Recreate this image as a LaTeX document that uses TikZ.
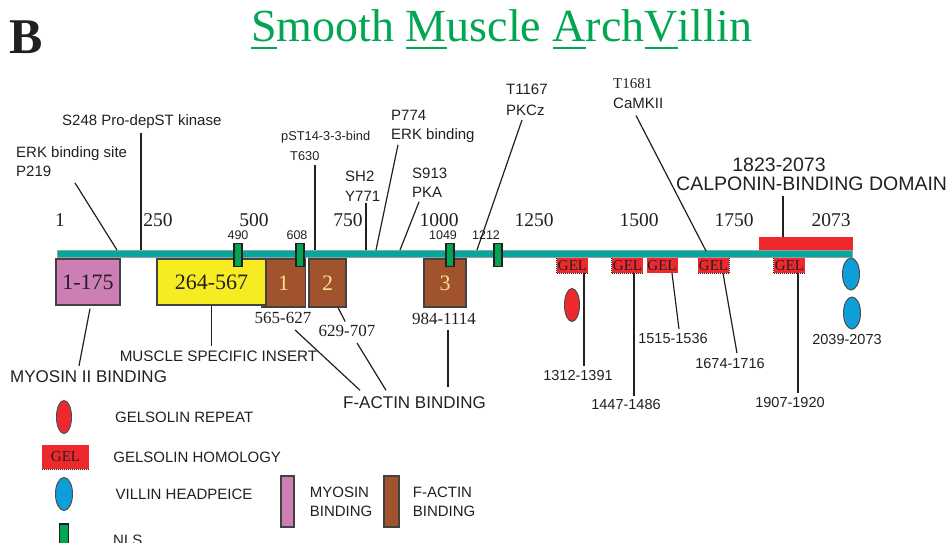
\documentclass[tikz,border=0pt]{standalone}
\usepackage{fontspec}
\setmainfont{Liberation Serif}
\setsansfont{Liberation Sans}
\usetikzlibrary{shapes.geometric, positioning}

\definecolor{ink}{RGB}{35,31,32}
\definecolor{barteal}{RGB}{0,168,157}
\definecolor{nlsgreen}{RGB}{0,166,81}
\definecolor{myopink}{RGB}{204,126,181}
\definecolor{insyellow}{RGB}{247,236,34}
\definecolor{actinbrown}{RGB}{160,83,44}
\definecolor{gelred}{RGB}{237,41,46}
\definecolor{hpblue}{RGB}{14,158,218}
\definecolor{titlegreen}{RGB}{0,166,81}
\definecolor{numyellow}{RGB}{250,225,140}

% underline one capital of the title
\newcommand{\capline}[1]{\setbox0\hbox{#1}\rlap{\rule[-8pt]{\wd0}{2pt}}\box0}

\begin{document}
\begin{tikzpicture}[
    x=1pt, y=-1pt,
    every node/.style={inner sep=0pt, text=ink},
    site/.style={font=\sffamily\fontsize{15}{19}\selectfont, align=left, anchor=north west},
    scaletick/.style={font=\rmfamily\fontsize{19.5}{22}\selectfont},
    nlslabel/.style={font=\sffamily\fontsize{12.5}{14}\selectfont},
    spanlbl/.style={font=\rmfamily\fontsize{17}{20}\selectfont},
    rangelbl/.style={font=\sffamily\fontsize{14.5}{17}\selectfont},
    capt/.style={font=\sffamily\fontsize{17}{20}\selectfont},
    legtext/.style={font=\sffamily\fontsize{15}{19}\selectfont, align=left},
    lead/.style={draw=ink, line width=1.2pt},
    backbone/.style={draw=gray!75, fill=barteal, line width=1pt, minimum width=795pt, minimum height=7pt},
    nls/.style={draw=ink, fill=nlsgreen, line width=1.5pt, minimum width=8pt, minimum height=23pt},
    domainbox/.style={draw=ink!85, line width=1.3pt, font=\rmfamily\fontsize{22}{22}\selectfont},
    myosin/.style={domainbox, fill=myopink},
    msibox/.style={domainbox, fill=insyellow},
    actin/.style={domainbox, fill=actinbrown, text=numyellow},
    gel/.style={fill=gelred, font=\rmfamily\fontsize{15}{15}\selectfont, minimum width=31pt, minimum height=15pt},
    geledge/.style={draw=ink, densely dotted, line width=1pt},
    gelrep/.style={ellipse, draw=ink!80, fill=gelred, line width=1pt, minimum width=15pt, minimum height=33pt},
    headpiece/.style={ellipse, draw=ink!80, fill=hpblue, line width=1pt, minimum width=17pt, minimum height=32pt}
]
\useasboundingbox (0,0) rectangle (947,542);

% Heading
\node[anchor=base west, font=\rmfamily\bfseries\fontsize{50}{50}\selectfont] (panel) at (9,53) {B};
\node[anchor=base west, text=titlegreen, font=\rmfamily\fontsize{46}{46}\selectfont] (title) at (251,41)
    {\capline{S}mooth \capline{M}uscle \capline{A}rch\capline{V}illin};

% Scale along the backbone
\foreach \x/\t in {60/1, 158/250, 254/500, 348/750, 439/1000, 534/1250, 639/1500, 734/1750, 831/2073}
    \node[scaletick] (tick\t) at (\x,220) {\t};

% Domains under the backbone
\node[fill=gelred, minimum width=94pt, minimum height=13pt] (calponin) at (806,243.5) {};
\node[actin, minimum width=44pt, minimum height=48pt] (act1) at (283.5,283) {1};
\node[msibox, minimum width=109pt, minimum height=46pt] (msi) at (211.5,282) {264-567};
\node[myosin, minimum width=64pt, minimum height=46pt] (myo) at (88,282) {1-175};
\node[actin, minimum width=37pt, minimum height=48pt] (act2) at (327.5,283) {2};
\node[actin, minimum width=42pt, minimum height=48pt] (act3) at (445,283) {3};

% Backbone and NLS
\node[backbone] (bar) at (454.5,254) {};
\foreach \x/\lx/\t in {238/238/490, 300/297/608, 450/443/1049, 498/486/1212} {
    \node[nls] (nls\t) at (\x,255) {};
    \node[nlslabel] (nlslbl\t) at (\lx,235) {\t};
}

% Gelsolin homology boxes
\node[gel] (gel1) at (572.5,265.5) {GEL};
\node[gel] (gel2) at (627.5,265.5) {GEL};
\node[gel] (gel3) at (662,265.5) {GEL};
\node[gel] (gel4) at (713.5,265.5) {GEL};
\node[gel] (gel5) at (789.5,265.5) {GEL};
\draw[geledge] (gel1.north west) |- (gel1.south east);
\draw[geledge] (gel2.north west) |- (gel2.south east);
\draw[geledge] (gel4.south west) -| (gel4.north east);
\draw[geledge] (gel5.north west) |- (gel5.south east);

\node[gelrep] (rep1) at (572,305) {};
\node[headpiece] (hp1) at (851,274) {};
\node[headpiece] (hp2) at (852,313) {};

% Sites on the backbone
\coordinate (s219) at (117,250);
\coordinate (s248) at (141,250);
\coordinate (s630) at (315,250);
\coordinate (s771) at (366,250);
\coordinate (s774) at (376,250);
\coordinate (s913) at (400,250);
\coordinate (s1167) at (477,250);
\coordinate (s1681) at (706,251);

% Labels above the backbone
\node[site] (erk_site) at (16,146) {ERK binding site\\P219};
\node[site] (s248_lbl) at (62,114.5) {S248 Pro-depST kinase};
\node[site, font=\sffamily\fontsize{12.8}{15}\selectfont] (pst_lbl) at (281,131.5) {pST14-3-3-bind};
\node[site, font=\sffamily\fontsize{12.8}{15}\selectfont] (t630_lbl) at (290,151.5) {T630};
\node[site, font=\sffamily\fontsize{15}{20}\selectfont] (sh2_lbl) at (345,170.5) {SH2\\Y771};
\node[site] (p774_lbl) at (391,109.5) {P774\\ERK binding};
\node[site] (s913_lbl) at (412,167.5) {S913\\PKA};
\node[site, font=\sffamily\fontsize{15}{21}\selectfont] (t1167_lbl) at (506,83.5) {T1167\\PKCz};
\node[site, font=\rmfamily\fontsize{15}{17}\selectfont] (t1681_lbl) at (613,78) {T1681};
\node[site] (camk_lbl) at (613,97.5) {CaMKII};
\node[font=\sffamily\fontsize{19.5}{22}\selectfont] (calp_num) at (779,165) {1823-2073};
\node[anchor=west, font=\sffamily\fontsize{19.5}{22}\selectfont] (calp_lbl) at (676,184) {CALPONIN-BINDING DOMAIN};

% Labels below the backbone
\node[spanlbl] (r565) at (283,318) {565-627};
\node[spanlbl] (r629) at (347,331) {629-707};
\node[spanlbl] (r984) at (444,319) {984-1114};
\node[capt, font=\sffamily\fontsize{15.2}{18}\selectfont] (msi_lbl) at (218.5,356) {MUSCLE SPECIFIC INSERT};
\node[capt, anchor=west] (myo_lbl) at (10,377) {MYOSIN II BINDING};
\node[capt] (factin_lbl) at (414.5,403) {F-ACTIN BINDING};
\node[rangelbl] (r1312) at (578,375) {1312-1391};
\node[rangelbl] (r1447) at (626,404) {1447-1486};
\node[rangelbl] (r1515) at (673,338) {1515-1536};
\node[rangelbl] (r1674) at (730,363) {1674-1716};
\node[rangelbl] (r1907) at (790,402) {1907-1920};
\node[rangelbl] (r2039) at (847,339) {2039-2073};

% Legend
\node[gelrep] (leg_rep) at (64,417) {};
\node[gel, minimum width=47pt, minimum height=24pt] (leg_gel) at (65.5,457) {GEL};
\draw[geledge] (leg_gel.south west) -- (leg_gel.south east);
\node[headpiece, minimum height=33pt] (leg_hp) at (64,494) {};
\node[nls, minimum width=9pt, minimum height=30pt] (leg_nls) at (64,539) {};
\node[legtext, right=43pt of leg_rep] (leg_rep_txt) {GELSOLIN REPEAT};
\node[legtext, right=24pt of leg_gel] (leg_gel_txt) {GELSOLIN HOMOLOGY};
\node[legtext, right=42.5pt of leg_hp] (leg_hp_txt) {VILLIN HEADPEICE};
\node[legtext, anchor=west] (leg_nls_txt) at (113,540) {NLS};
\node[myosin, minimum width=13pt, minimum height=51pt] (leg_myo) at (287.5,501.5) {};
\node[actin, minimum width=15pt, minimum height=51pt] (leg_act) at (391.5,501.5) {};
\node[legtext, right=15pt of leg_myo] (leg_myo_txt) {MYOSIN\\BINDING};
\node[legtext, right=13pt of leg_act] (leg_act_txt) {F-ACTIN\\BINDING};

% Connections
\draw[lead] (s219) -- ([shift={(59,6.5)}]erk_site.south west);
\draw[lead, shorten >=4.5pt] (s248) -- (s248 |- s248_lbl.south);
\draw[lead, shorten >=4.5pt] (s630) -- (s630 |- t630_lbl.south);
\draw[lead, shorten >=1.5pt] (s771) -- (s771 |- sh2_lbl.south);
\draw[lead] (s774) -- ([shift={(7,2.5)}]p774_lbl.south west);
\draw[lead] (s913) -- ([shift={(7,4.5)}]s913_lbl.south west);
\draw[lead] (s1167) -- ([shift={(16,4.5)}]t1167_lbl.south west);
\draw[lead] (s1681) -- ([shift={(23,7)}]camk_lbl.south west);
\draw[lead, shorten >=5pt] ([xshift=-23pt]calponin.north) -- ([xshift=-23pt]calponin.north |- calp_lbl.south);

\draw[lead] ([shift={(2,3)}]myo.south) -- ([shift={(69,-5)}]myo_lbl.north west);
\draw[lead, shorten >=4pt] (msi.south) -- (msi.south |- msi_lbl.north);
\draw[lead, shorten >=4pt] ([xshift=10.5pt]act2.south) -- (r629.north);
\draw[lead] ([shift={(12,6)}]r565.south) -- ([shift={(-54.5,-6.5)}]factin_lbl.north);
\draw[lead] ([shift={(10,6)}]r629.south) -- ([shift={(-28.5,-6.5)}]factin_lbl.north);
\draw[lead] ([shift={(4,5)}]r984.south) -- ([shift={(33.5,-9.5)}]factin_lbl.north);

\draw[lead] ([xshift=11.5pt]gel1.south) -- ([shift={(6,-3.5)}]r1312.north);
\draw[lead] ([xshift=6.5pt]gel2.south) -- ([shift={(8,-2.5)}]r1447.north);
\draw[lead] ([xshift=10pt]gel3.south) -- ([shift={(6,-3.5)}]r1515.north);
\draw[lead] ([xshift=9.5pt]gel4.south) -- ([shift={(7,-4.5)}]r1674.north);
\draw[lead] ([xshift=8.5pt]gel5.south) -- ([shift={(8,-3.5)}]r1907.north);

\end{tikzpicture}
\end{document}
